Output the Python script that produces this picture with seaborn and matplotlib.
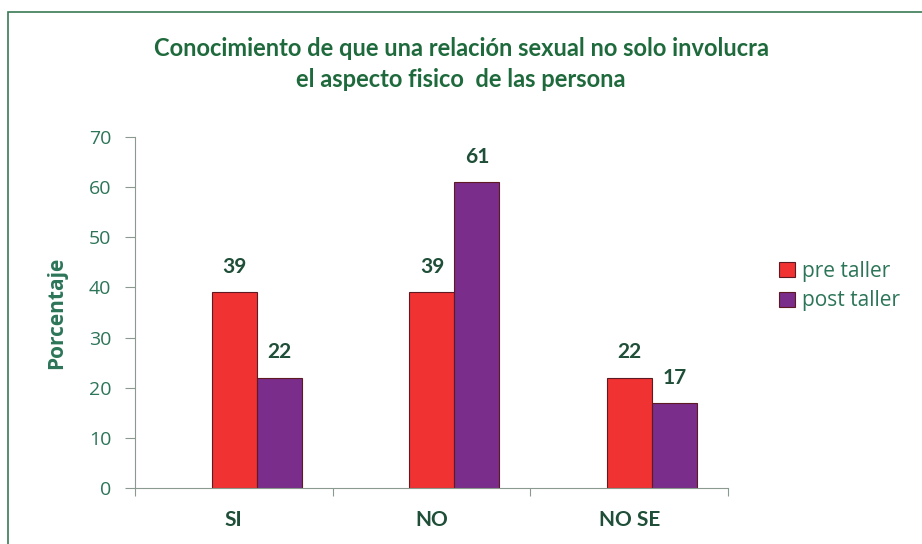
import seaborn as sns
import matplotlib.pyplot as plt
import pandas as pd
from matplotlib.patches import Rectangle

categories = ["SI", "NO", "NO SE"]
pre_taller = [39, 39, 22]
post_taller = [22, 61, 17]
series_names = ["pre taller", "post taller"]

df = pd.DataFrame({
    "respuesta": categories * 2,
    "valor": pre_taller + post_taller,
    "grupo": [series_names[0]] * 3 + [series_names[1]] * 3,
})

sns.set_style("white")
plt.rcParams["font.family"] = ["Lato", "DejaVu Sans"]

green = "#2c7558"
dark = "#1f4f38"
fig = plt.figure(figsize=(9.22, 5.44), dpi=100)
ax = fig.add_axes([0.1464, 0.1029, 0.6432, 0.6452])

colors = {"pre taller": "#f13232", "post taller": "#7a2d8a"}
sns.barplot(data=df, x="respuesta", y="valor", hue="grupo", palette=colors,
            width=0.455, saturation=1, edgecolor="#5e1a22", linewidth=0.8, ax=ax)

for cont in ax.containers:
    ax.bar_label(cont, padding=11, fontsize=15, fontweight="bold", color=dark)

# bars sit a bit right of the category labels in the original
shift = 0.116
ax.set_ylim(0, 70)
ax.set_yticks(range(0, 71, 10))
ax.set_xlim(-0.5 - shift, 2.5 - shift)
ax.set_xticks([i - shift for i in range(3)])
ax.set_xticklabels(categories)
ax.set_xticks([i + 0.5 - shift for i in range(-1, 3)], minor=True)
ax.set_xlabel("")
ax.set_ylabel("Porcentaje", fontsize=15, fontweight="bold", color=green,
              labelpad=16, family=["Open Sans", "DejaVu Sans"])
ax.tick_params(axis="y", left=True, labelsize=14, colors="#8a9a90", labelcolor=green,
               length=7, width=0.8, pad=10)
ax.tick_params(axis="x", bottom=True, labelsize=15, colors="#8a9a90", labelcolor=dark,
               length=0, pad=16)
ax.tick_params(axis="x", which="minor", bottom=True, length=6, width=0.8, colors="#8a9a90")
for lbl in ax.get_yticklabels():
    lbl.set_family(["Open Sans", "DejaVu Sans"])
for lbl in ax.get_xticklabels():
    lbl.set_fontweight("bold")
sns.despine(ax=ax, top=True, right=True)
for s in ["left", "bottom"]:
    ax.spines[s].set_color("#8a9a90")
    ax.spines[s].set_linewidth(0.8)

ax.legend(loc="upper left", bbox_to_anchor=(1.055, 0.70), frameon=False,
          prop={"family": ["Open Sans", "DejaVu Sans"], "size": 15},
          handlelength=0.75, handleheight=0.75, handletextpad=0.35, labelspacing=0.4,
          labelcolor=green)

fig.text(0.5, 0.882, "Conocimiento de que una relación sexual no solo involucra\nel aspecto fisico  de las persona",
         ha="center", va="center", fontsize=17, fontweight="bold", color="#1f6a3c", linespacing=1.42)

fig.patches.append(Rectangle((0.009, -0.05), 1.1, 0.05 + 1 - 12 / 544, transform=fig.transFigure,
                             fill=False, edgecolor="#3a7a55", linewidth=1.2))

fig.savefig("out.png", dpi=100)
